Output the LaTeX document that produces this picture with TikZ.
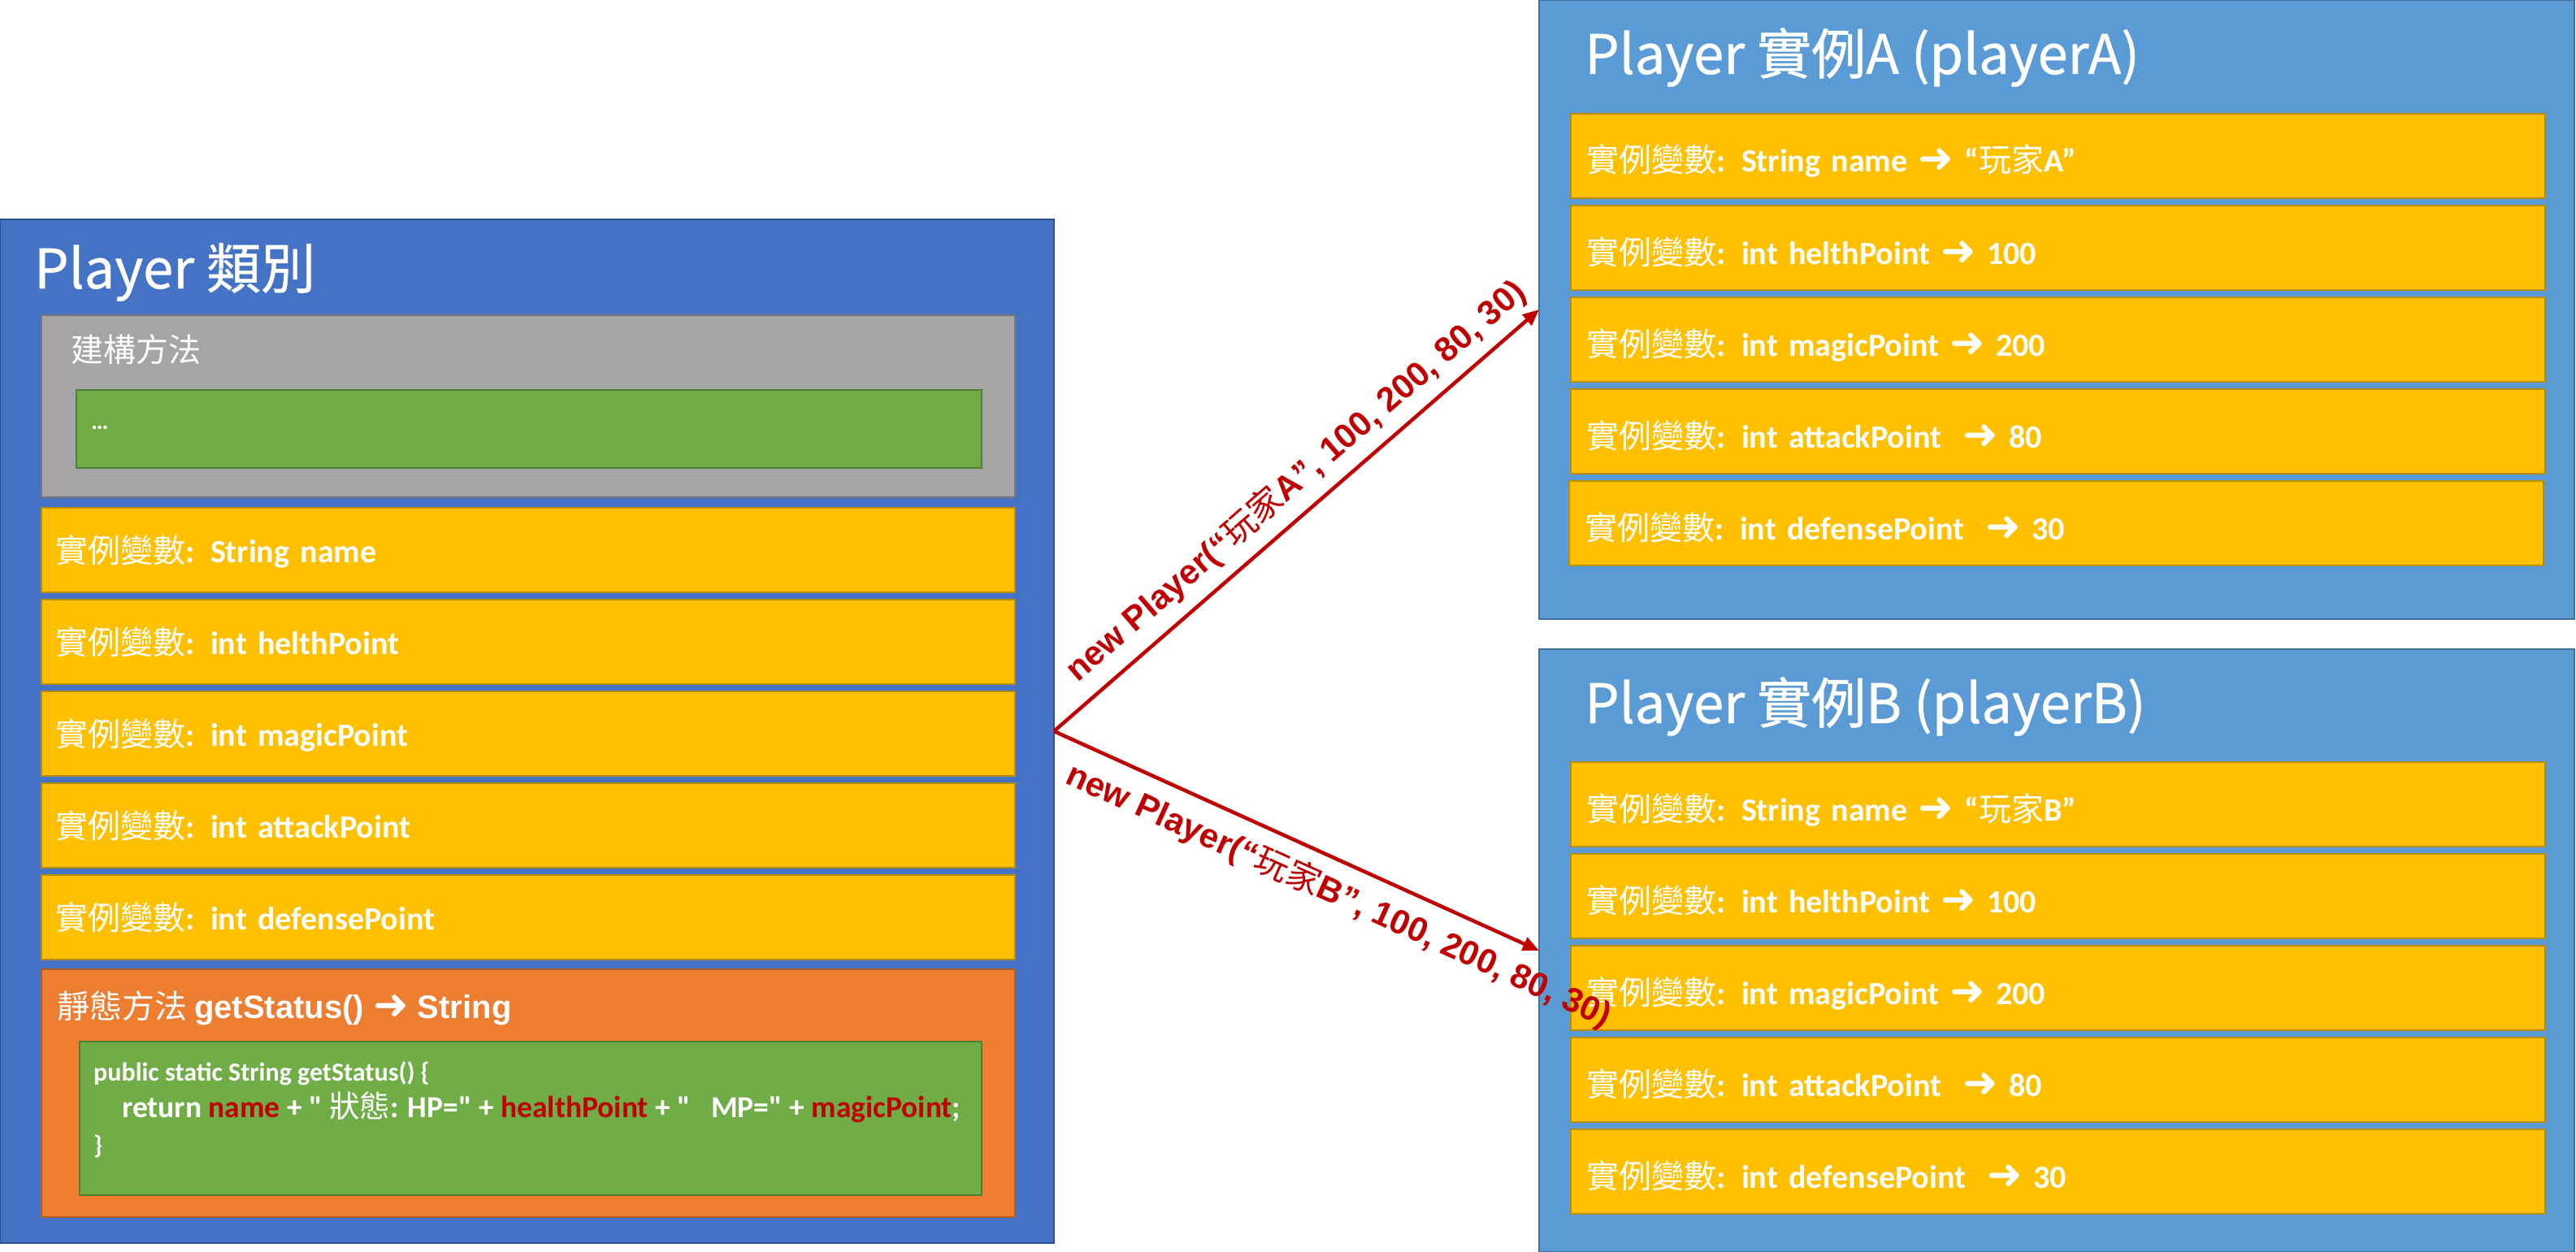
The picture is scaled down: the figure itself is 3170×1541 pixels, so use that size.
\documentclass[tikz,border=0pt]{standalone}
\usepackage{fontspec}
\setmainfont{Carlito}[Ligatures=TeXOff]
\newfontfamily\cjk{Noto Sans CJK TC}
\newfontfamily\cjkt{Noto Sans CJK TC}[FakeBold=0.7]
\newfontfamily\arialf{Liberation Sans}
\newfontfamily\djv{DejaVu Sans}
\usetikzlibrary{calc,arrows.meta}

\definecolor{clsblue}{HTML}{4472C4}
\definecolor{clsborder}{HTML}{2F528F}
\definecolor{instblue}{HTML}{5B9BD5}
\definecolor{instborder}{HTML}{41719C}
\definecolor{greyfill}{HTML}{A5A5A5}
\definecolor{greyborder}{HTML}{787878}
\definecolor{greenfill}{HTML}{70AD47}
\definecolor{greenborder}{HTML}{507E32}
\definecolor{yellowfill}{HTML}{FFC000}
\definecolor{yellowborder}{HTML}{BC8C00}
\definecolor{orangefill}{HTML}{ED7D31}
\definecolor{orangeborder}{HTML}{AE5A21}
\definecolor{darkred}{HTML}{C00000}

\newcommand\cj[1]{{\cjk\mdseries #1}}
\newcommand\rarr{\raisebox{-1pt}{\scalebox{1.3}{\djv\mdseries ➜}}}
\newcommand\rd[1]{\textcolor{darkred}{#1}}

\tikzset{
  panel/.style={draw, line width=2.5pt, anchor=north west, inner sep=0pt, outer sep=0pt},
  clsbox/.style={panel, fill=clsblue, draw=clsborder},
  instbox/.style={panel, fill=instblue, draw=instborder},
  greybox/.style={panel, fill=greyfill, draw=greyborder},
  greenbox/.style={panel, fill=greenfill, draw=greenborder},
  orangebox/.style={panel, fill=orangefill, draw=orangeborder},
  rowbase/.style={panel, fill=yellowfill, draw=yellowborder, minimum height=104pt,
     align=left, text=white, font=\fontsize{40}{48}\selectfont\bfseries},
  leftrow/.style={rowbase, inner xsep=17pt, text width=1164pt, text height=32pt, text depth=2pt},
  rightrow/.style={rowbase, inner xsep=19pt, text width=1161pt, text height=40pt, text depth=0pt},
  bigtitle/.style={anchor=base west, inner sep=0pt, text=white, font=\cjkt\fontsize{67}{78}\selectfont},
  plain/.style={anchor=base west, inner sep=0pt, text=white},
  codeline/.style={plain, font=\fontsize{32}{38}\selectfont\bfseries},
  arr/.style={draw=darkred, line width=4.5pt, -{Triangle[length=20pt,width=17pt]}},
  lbl/.style={inner sep=0pt, text=darkred, font=\arialf\fontsize{42}{50}\selectfont\bfseries}
}

\begin{document}
\begin{tikzpicture}[x=1pt,y=1pt]
\useasboundingbox (0,0) rectangle (3170,-1541);

% ---------- class box ----------
\node[clsbox, minimum width=1297pt, minimum height=1260pt] (cls) at (0,-270) {};
\node[bigtitle] (clsTitle) at (42,-355) {Player 類別};

\node[greybox, minimum width=1198pt, minimum height=224pt] (ctor) at (51,-388) {};
\node[plain, font=\cjk\fontsize{40}{48}\selectfont] (ctorTitle) at (87,-445) {建構方法};
\node[greenbox, minimum width=1114pt, minimum height=96pt] (ctorBody) at (94,-480) {};
\node[plain, font=\fontsize{30}{36}\selectfont\bfseries] (ctorDots) at (112,-528) {…};

\node[leftrow] (l1) at (51,-625) {\cj{實例變數}: String name};
\node[leftrow] (l2) at (51,-738) {\cj{實例變數}: int helthPoint};
\node[leftrow] (l3) at (51,-851) {\cj{實例變數}: int magicPoint};
\node[leftrow] (l4) at (51,-964) {\cj{實例變數}: int attackPoint};
\node[leftrow] (l5) at (51,-1077) {\cj{實例變數}: int defensePoint};

\node[orangebox, minimum width=1198pt, minimum height=305pt] (method) at (51,-1193) {};
\node[plain, font=\fontsize{40}{48}\selectfont] (methodTitle) at (70,-1253)
  {\cj{靜態方法} {\arialf\bfseries getStatus() \rarr{} String}};
\node[greenbox, minimum width=1110pt, minimum height=189pt] (code) at (98,-1282) {};
\node[codeline] (code1) at (115,-1330) {public static String getStatus() \{};
\node[codeline, font=\fontsize{37.5}{44}\selectfont\bfseries] (code2) at (150,-1375)
  {return \rd{name} + " \cj{狀態}: HP=" + \rd{healthPoint} + "\ \ \ MP=" + \rd{magicPoint};};
\node[codeline] (code3) at (115,-1420) {\}};

% ---------- instance A ----------
\node[instbox, minimum width=1274pt, minimum height=762pt] (instA) at (1894,0) {};
\node[bigtitle] (titleA) at (1950,-91) {Player 實例A (playerA)};
\node[rightrow] (a1) at (1933,-140) {\cj{實例變數}: String name \rarr{} “\cj{玩家}A”};
\node[rightrow] (a2) at (1933,-253) {\cj{實例變數}: int helthPoint \rarr{} 100};
\node[rightrow] (a3) at (1933,-366) {\cj{實例變數}: int magicPoint \rarr{} 200};
\node[rightrow] (a4) at (1933,-479) {\cj{實例變數}: int attackPoint\ \ \rarr{} 80};
\node[rightrow] (a5) at (1931,-592) {\cj{實例變數}: int defensePoint\ \ \rarr{} 30};

% ---------- instance B ----------
\node[instbox, minimum width=1274pt, minimum height=742pt] (instB) at (1894,-799) {};
\node[bigtitle] (titleB) at (1950,-890) {Player 實例B (playerB)};
\node[rightrow] (b1) at (1933,-938) {\cj{實例變數}: String name \rarr{} “\cj{玩家}B”};
\node[rightrow] (b2) at (1933,-1051) {\cj{實例變數}: int helthPoint \rarr{} 100};
\node[rightrow] (b3) at (1933,-1164) {\cj{實例變數}: int magicPoint \rarr{} 200};
\node[rightrow] (b4) at (1933,-1277) {\cj{實例變數}: int attackPoint\ \ \rarr{} 80};
\node[rightrow] (b5) at (1933,-1390) {\cj{實例變數}: int defensePoint\ \ \rarr{} 30};

% ---------- connectors ----------
\draw[arr] (cls.east) -- (instA.west);
\draw[arr] (cls.east) -- (instB.west);
\node[lbl, rotate=40.75, anchor=base] (lblA) at (1603,-602)
  {new Player(“\cj{玩家}A”, 100, 200, 80, 30)};
\node[lbl, rotate=-24.34, anchor=base] (lblB) at (1642,-1114)
  {new Player(“\cj{玩家}B”, 100, 200, 80, 30)};
\end{tikzpicture}
\end{document}
